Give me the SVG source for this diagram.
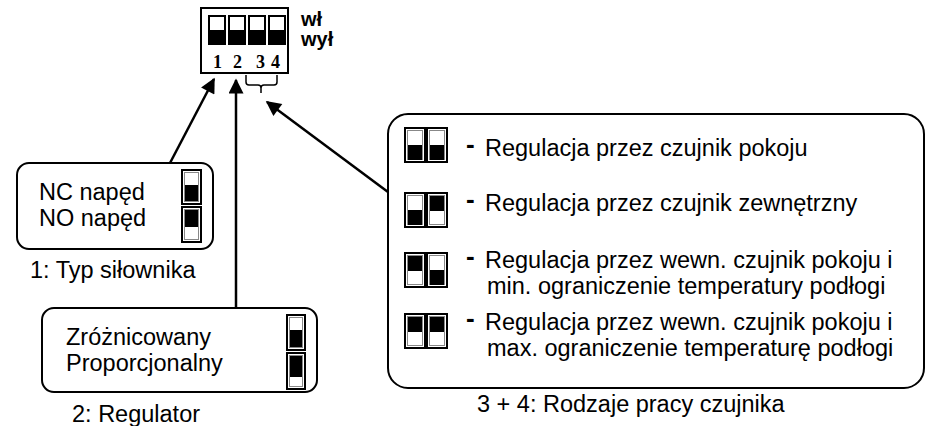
<svg xmlns="http://www.w3.org/2000/svg" width="928" height="426" viewBox="0 0 928 426">
<style>
.box{fill:#fff;stroke:#000;stroke-width:2}
.t{font-family:"Liberation Sans",Arial,sans-serif;font-size:23.5px;fill:#000}
.dash{font-family:"Liberation Sans",Arial,sans-serif;font-size:26px;font-weight:bold;fill:#000}
.d{font-family:"Liberation Serif","Times New Roman",serif;font-size:18px;font-weight:bold;fill:#000}
.b{font-family:"Liberation Sans",Arial,sans-serif;font-size:20px;font-weight:bold;fill:#000}
.sw{fill:#fff;stroke:#000;stroke-width:2}
.in{fill:none;stroke:#888;stroke-width:1}
.k{fill:#000}
.ln{stroke:#000;stroke-width:2.5;fill:none}
</style>
<defs>
<marker id="ah" viewBox="0 0 10 10" refX="9" refY="5" markerWidth="7" markerHeight="6" markerUnits="strokeWidth" orient="auto">
<path d="M0,0 L10,5 L0,10 z" fill="#000"/>
</marker>
</defs>

<g id="dip">
<rect class="box" x="201" y="8" width="87" height="65"/>
<rect class="sw" x="209" y="16" width="16" height="28"/><rect class="k" x="210" y="30" width="14" height="13"/>
<rect class="sw" x="229" y="16" width="16" height="28"/><rect class="k" x="230" y="30" width="14" height="13"/>
<rect class="sw" x="249" y="16" width="16" height="28"/><rect class="k" x="250" y="30" width="14" height="13"/>
<rect class="sw" x="269" y="16" width="16" height="28"/><rect class="k" x="270" y="30" width="14" height="13"/>
<text class="d" x="213" y="68">1</text>
<text class="d" x="233" y="68">2</text>
<text class="d" x="256" y="68">3</text>
<text class="d" x="271" y="68">4</text>
<text class="b" x="301" y="26">wł</text>
<text class="b" x="301" y="46">wył</text>
</g>

<g id="connectors">
<line class="ln" x1="170" y1="163" x2="214" y2="79" marker-end="url(#ah)"/>
<line class="ln" x1="236" y1="308" x2="236" y2="80" marker-end="url(#ah)"/>
<line class="ln" x1="388" y1="192" x2="267" y2="102" marker-end="url(#ah)"/>
<path d="M246,75 V82 Q246,85 249,85 H258 Q261,85 261,88 V93 M261,88 Q261,85 264,85 H274 Q277,85 277,82 V75" fill="none" stroke="#000" stroke-width="1.5"/>
</g>

<g id="typ">
<rect class="box" x="17" y="163" width="196" height="86" rx="12"/>
<text class="t" x="39" y="200">NC napęd</text>
<text class="t" x="39" y="226">NO napęd</text>
<rect class="sw" x="182" y="170" width="19" height="34"/><rect class="in" x="184.5" y="172.5" width="14" height="29"/><rect class="k" x="185" y="185" width="13" height="16"/>
<rect class="sw" x="182" y="207" width="19" height="35"/><rect class="in" x="184.5" y="209.5" width="14" height="30"/><rect class="k" x="185" y="210" width="13" height="17"/>
<text class="t" x="30" y="278">1: Typ siłownika</text>
</g>

<g id="regulator">
<rect class="box" x="42" y="308" width="275" height="84" rx="12"/>
<text class="t" x="66" y="345">Zróżnicowany</text>
<text class="t" x="66" y="371">Proporcjonalny</text>
<rect class="sw" x="287" y="315" width="18" height="35"/><rect class="in" x="289.5" y="317.5" width="13" height="30"/><rect class="k" x="290" y="330" width="12" height="17"/>
<rect class="sw" x="287" y="353" width="18" height="36"/><rect class="in" x="289.5" y="355.5" width="13" height="31"/><rect class="k" x="290" y="356" width="12" height="21"/>
<text class="t" x="72" y="422">2: Regulator</text>
</g>

<g id="czujnik">
<rect class="box" x="388" y="114" width="536" height="274" rx="20"/>
<rect class="sw" x="405" y="128" width="20" height="34"/><rect class="in" x="407.5" y="130.5" width="15" height="29"/><rect class="k" x="408" y="145" width="14" height="15"/>
<rect class="sw" x="427" y="128" width="20" height="34"/><rect class="in" x="429.5" y="130.5" width="15" height="29"/><rect class="k" x="430" y="145" width="14" height="15"/>
<text class="dash" x="466" y="153">-</text>
<text class="t" x="485" y="156">Regulacja przez czujnik pokoju</text>

<rect class="sw" x="405" y="193" width="20" height="34"/><rect class="in" x="407.5" y="195.5" width="15" height="29"/><rect class="k" x="408" y="210" width="14" height="15"/>
<rect class="sw" x="427" y="193" width="20" height="34"/><rect class="in" x="429.5" y="195.5" width="15" height="29"/><rect class="k" x="430" y="196" width="14" height="15"/>
<text class="dash" x="466" y="208">-</text>
<text class="t" x="485" y="211">Regulacja przez czujnik zewnętrzny</text>

<rect class="sw" x="405" y="253" width="20" height="34"/><rect class="in" x="407.5" y="255.5" width="15" height="29"/><rect class="k" x="408" y="256" width="14" height="15"/>
<rect class="sw" x="427" y="253" width="20" height="34"/><rect class="in" x="429.5" y="255.5" width="15" height="29"/><rect class="k" x="430" y="270" width="14" height="15"/>
<text class="dash" x="466" y="265">-</text>
<text class="t" x="485" y="268">Regulacja przez wewn. czujnik pokoju i</text>
<text class="t" x="487" y="294">min. ograniczenie temperatury podłogi</text>

<rect class="sw" x="405" y="314" width="20" height="34"/><rect class="in" x="407.5" y="316.5" width="15" height="29"/><rect class="k" x="408" y="317" width="14" height="15"/>
<rect class="sw" x="427" y="314" width="20" height="34"/><rect class="in" x="429.5" y="316.5" width="15" height="29"/><rect class="k" x="430" y="317" width="14" height="15"/>
<text class="dash" x="466" y="327">-</text>
<text class="t" x="485" y="330">Regulacja przez wewn. czujnik pokoju i</text>
<text class="t" x="487" y="356">max. ograniczenie temperaturę podłogi</text>
<text class="t" x="477" y="412">3 + 4: Rodzaje pracy czujnika</text>
</g>
</svg>
